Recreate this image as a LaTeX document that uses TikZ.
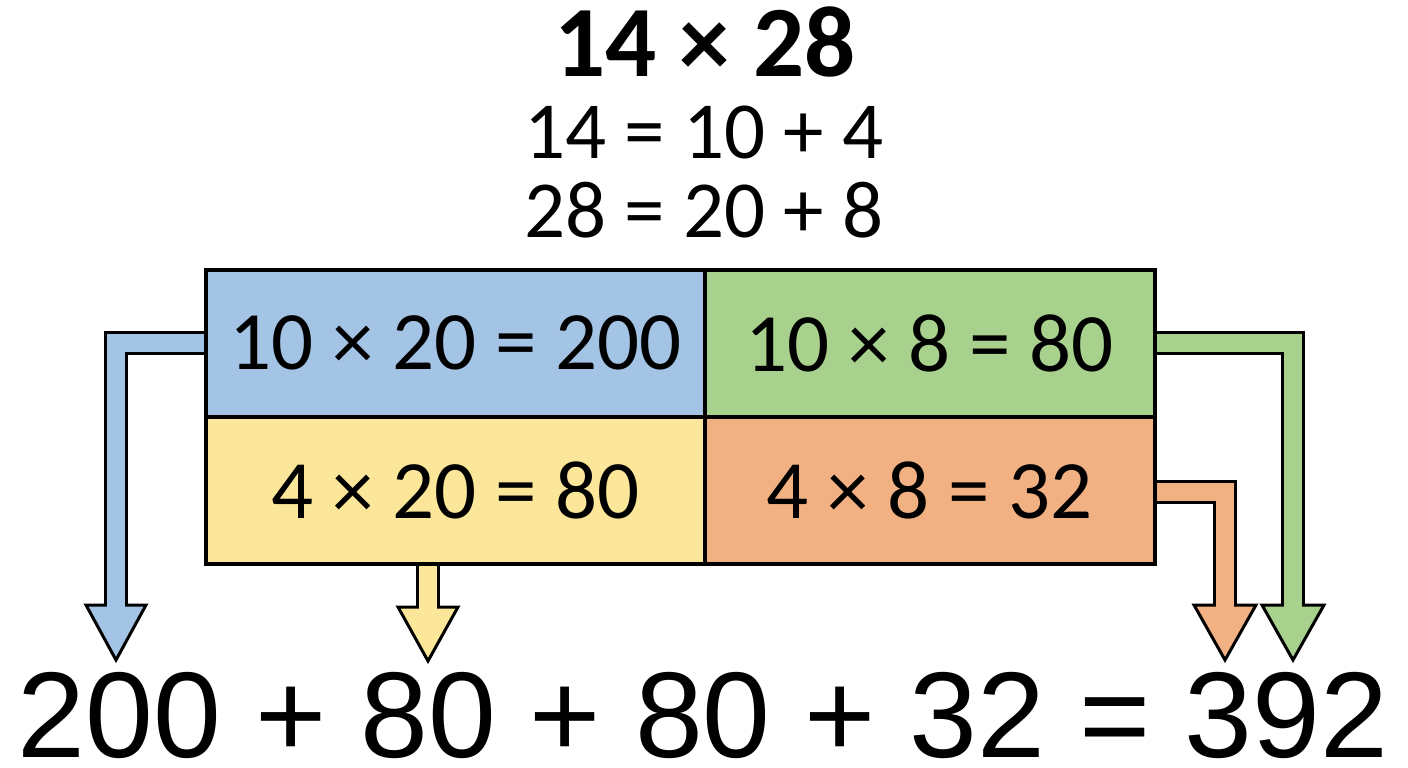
\documentclass[tikz,border=0pt]{standalone}
\usepackage{fontspec}
\setmainfont{Carlito}
\newfontfamily\bottomfont{Liberation Sans}
\usetikzlibrary{calc}
\definecolor{cblue}{HTML}{A3C4E5}
\definecolor{cgreen}{HTML}{A9D18E}
\definecolor{cyellow}{HTML}{FCE699}
\definecolor{corange}{HTML}{F2B183}
\tikzset{
  cell/.style={draw=black, line width=3.5pt, fill=#1, anchor=north west,
    minimum height=147pt, inner sep=0pt, font=\fontsize{83}{90}\selectfont},
  txt/.style={anchor=base, inner sep=0pt},
  shaftout/.style={draw=black, line width=24pt, line join=miter},
  shaftin/.style={draw=#1, line width=18pt, line join=miter},
  headtri/.style={fill=#1, draw=black, line width=3pt, line join=miter},
}
\begin{document}
\begin{tikzpicture}[x=1pt,y=-1pt]
\useasboundingbox[fill=white] (0,0) rectangle (1408,768);

% title texts
\node[txt, font=\bfseries\fontsize{101}{110}\selectfont] (title) at (705,77) {14 × 28};
\node[txt, font=\fontsize{81}{88}\selectfont] (lineA) at (704,158) {14 = 10 + 4};
\node[txt, font=\fontsize{81}{88}\selectfont] (lineB) at (704,237) {28 = 20 + 8};

% bottom result
\node[txt, font=\bottomfont\fontsize{122}{128}\selectfont] (result) at (703,757) {200 + 80 + 80 + 32 = 392};

% connector start points on the cells
\coordinate (blueW) at (204,343);
\coordinate (greenE) at (1153,343);
\coordinate (orangeE) at (1153,492);
\coordinate (yellowS) at (428,563);

% arrow heads (top centre) and tips
\coordinate (bh) at (116,605);  \coordinate (bt) at (116,660);
\coordinate (yh) at (428,607);  \coordinate (yt) at (428,661);
\coordinate (oh) at (1225,605); \coordinate (ot) at (1225,660);
\coordinate (gh) at (1293,605); \coordinate (gt) at (1293,660);

% blue arrow
\draw[shaftout] (blueW) -| (bh);
\draw[headtri=cblue] ($(bh)+(-30,0)$) -- ($(bh)+(30,0)$) -- (bt) -- cycle;
\draw[shaftin=cblue] (blueW) -| ($(bh)+(0,4)$);
% yellow arrow
\draw[shaftout] (yellowS) -- (yh);
\draw[headtri=cyellow] ($(yh)+(-30,0)$) -- ($(yh)+(30,0)$) -- (yt) -- cycle;
\draw[shaftin=cyellow] (yellowS) -- ($(yh)+(0,4)$);
% orange arrow
\draw[shaftout] (orangeE) -| (oh);
\draw[headtri=corange] ($(oh)+(-31,0)$) -- ($(oh)+(31,0)$) -- (ot) -- cycle;
\draw[shaftin=corange] (orangeE) -| ($(oh)+(0,4)$);
% green arrow
\draw[shaftout] (greenE) -| (gh);
\draw[headtri=cgreen] ($(gh)+(-31,0)$) -- ($(gh)+(31,0)$) -- (gt) -- cycle;
\draw[shaftin=cgreen] (greenE) -| ($(gh)+(0,4)$);

% cells
\node[cell=cblue, minimum width=499pt] (blue) at (204,268) {10 × 20 = 200};
\node[cell=cgreen, minimum width=450pt] (green) at (703,268) {10 × 8 = 80};
\node[cell=cyellow, minimum width=499pt] (yellow) at (204,415) {4 × 20 = 80};
\node[cell=corange, minimum width=450pt] (orange) at (703,415) {4 × 8 = 32};
\end{tikzpicture}
\end{document}
